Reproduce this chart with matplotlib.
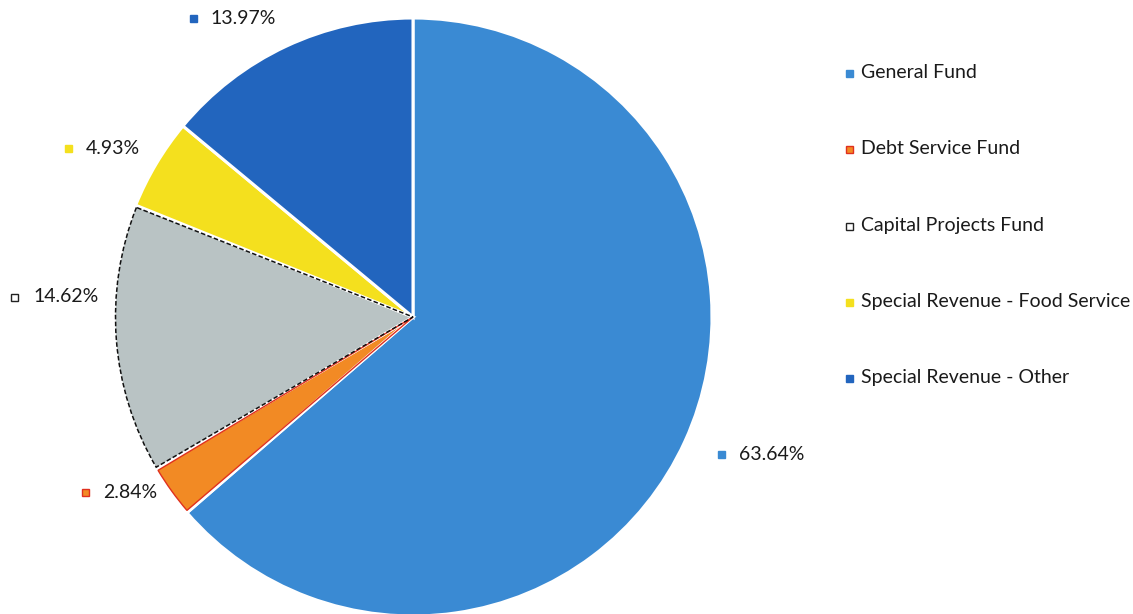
import matplotlib.pyplot as plt
from matplotlib.patches import Wedge, Rectangle

plt.rcParams['font.family'] = ['Lato', 'DejaVu Sans']

# Fund shares, clockwise from 12 o'clock
funds = ['General Fund', 'Debt Service Fund', 'Capital Projects Fund',
         'Special Revenue - Food Service', 'Special Revenue - Other']
shares = [63.64, 2.84, 14.62, 4.93, 13.97]
pct_labels = ['63.64%', '2.84%', '14.62%', '4.93%', '13.97%']

fills = ['#3A8AD3', '#F28A24', '#B9C3C4', '#F4E01E', '#2265BE']
marker_edges = ['#3A8AD3', '#E0301E', '#222222', '#F4E01E', '#2265BE']

W, H = 1133, 614
fig = plt.figure(figsize=(W / 100, H / 100), dpi=100)
ax = fig.add_axes([0, 0, 1, 1])
ax.set_xlim(0, W)
ax.set_ylim(0, H)
ax.set_aspect('equal')
ax.axis('off')

cx, cy, r = 413, 297, 299
wedges, _ = ax.pie(shares, colors=fills, startangle=90, counterclock=False,
                   center=(cx, cy), radius=r, frame=True,
                   wedgeprops=dict(edgecolor='white', linewidth=2.2))
ax.set_xlim(0, W)
ax.set_ylim(0, H)
ax.axis('off')

# thin red rim on the debt slice, dashed black rim on capital projects
for i, style in [(1, dict(edgecolor='#E0301E', linestyle='-', linewidth=1.0)),
                 (2, dict(edgecolor='#111111', linestyle=(0, (3, 1.5)), linewidth=1.1))]:
    w = wedges[i]
    ax.add_patch(Wedge((cx, cy), r - 1.5, w.theta1 + 0.35, w.theta2 - 0.35,
                       facecolor='none', **style))

# percentage labels outside the pie
label_xy = [(739, 160), (103, 122), (33, 317), (86, 466), (210, 596)]
marker_dx = [-18, -18, -19, -18, -17]
for i, (x, y) in enumerate(label_xy):
    ax.text(x, y, pct_labels[i], fontsize=14, color='#1a1a1a', va='center', ha='left')
    mx = x + marker_dx[i]
    ax.add_patch(Rectangle((mx - 3.5, y - 3.5), 7, 7,
                           facecolor=fills[i] if i != 2 else 'white',
                           edgecolor=marker_edges[i], linewidth=1.0))

# legend on the right
leg_y = [541, 465, 388, 312, 236]
for i, name in enumerate(funds):
    y = leg_y[i]
    ax.text(861, y, name, fontsize=14, color='#1a1a1a', va='center', ha='left')
    ax.add_patch(Rectangle((846, y - 3.5), 7, 7,
                           facecolor=fills[i] if i != 2 else 'white',
                           edgecolor=marker_edges[i], linewidth=1.0))

fig.savefig('out.png', dpi=100)
